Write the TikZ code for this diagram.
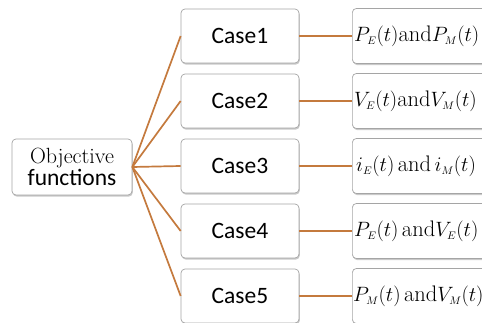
\documentclass[tikz,border=0pt]{standalone}
\usepackage{fontspec}
\newfontfamily\calibri{Carlito}
\usetikzlibrary{shadows}
\definecolor{linkc}{RGB}{196,122,62}
\definecolor{boxline}{RGB}{165,165,165}
\begin{document}
\begin{tikzpicture}[x=1pt,y=1pt,
  box/.style={draw=boxline, line width=0.7pt, rounded corners=4pt, fill=white,
    drop shadow={opacity=0.35, shadow xshift=0.8pt, shadow yshift=-1.6pt, fill=black!60},
    inner sep=0pt},
  casebox/.style={box, minimum width=118pt, minimum height=54pt, font=\calibri\fontsize{23.5}{26}\selectfont},
  resbox/.style={box, minimum width=170pt, minimum height=55pt},
  restext/.style={anchor=west, inner sep=0pt, font=\fontsize{22.5}{25}\selectfont},
  link/.style={draw=linkc, line width=1.7pt}
]
\useasboundingbox (0,0) rectangle (482,-323);
\clip (0,0) rectangle (482,-323);
\node[box, minimum width=120pt, minimum height=56pt, align=center] (obj) at (72,-167)
  {{\fontsize{22}{23}\selectfont Objective}\\[-0.5pt]{\calibri\fontsize{23.5}{23}\selectfont functions}};
\foreach \i/\y in {1/36,2/101,3/166,4/231,5/296}{
  \node[casebox] (c\i) at (240,-\y) {Case\i};
  \node[resbox, anchor=west] (r\i) at (352,-\y) {};
}
\node[restext] (t1) at (354,-36) {$P_{\scriptscriptstyle E}(t)\mathrm{and}P_{\scriptscriptstyle M}(t)$};
\node[restext] (t2) at (354,-101) {$V_{\scriptscriptstyle E}(t)\mathrm{and}V_{\scriptscriptstyle M}(t)$};
\node[restext] (t3) at (356,-166) {$i_{\scriptscriptstyle E}(t)\,\mathrm{and}\,i_{\scriptscriptstyle M}(t)$};
\node[restext] (t4) at (354,-231) {$P_{\scriptscriptstyle E}(t)\,\mathrm{and}V_{\scriptscriptstyle E}(t)$};
\node[restext] (t5) at (353,-296) {$P_{\scriptscriptstyle M}(t)\,\mathrm{and}V_{\scriptscriptstyle M}(t)$};
\foreach \i in {1,...,5}{
  \draw[link] (obj.east) -- (c\i.west);
  \draw[link] (c\i.east) -- (r\i.west);
}
\end{tikzpicture}
\end{document}
